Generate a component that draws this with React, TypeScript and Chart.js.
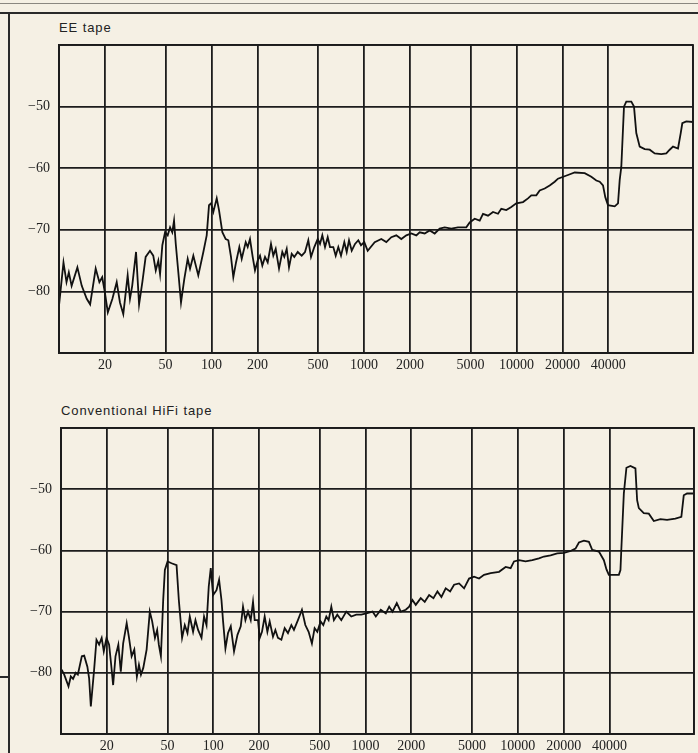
import React, { useEffect, useRef } from 'react';
import { Chart, registerables } from 'chart.js';

Chart.register(...registerables);

// Frequency axis (Hz, logarithmic) tick values and labels
const xTickValues = [10, 20, 50, 100, 200, 500, 1000, 2000, 5000, 10000, 20000, 40000, 143600];
const xTickLabels = ['', '20', '50', '100', '200', '500', '1000', '2000', '5000', '10000', '20000', '40000', ''];
const xMin = 10;
const xMax = 143600;

// Level axis (dB)
const yTickValues = [-90, -80, -70, -60, -50, -40];
const yTickLabels = ['', '\u221280', '\u221270', '\u221260', '\u221250', ''];
const yMin = -90;
const yMax = -40;

const titles = ['EE tape', 'Conventional HiFi tape'];

// EE tape
const eeFreq = [
  10, 10.7, 11.2, 11.6, 12.1, 13.2, 14.1, 15.2, 16.0, 17.4,
  18.4, 19.2, 20.0, 20.9, 22.4, 23.9, 25.1, 26.4, 28.2, 29.2,
  30.2, 32.0, 33.5, 35.2, 37.0, 39.5, 41.5, 43.1, 44.8, 46.0,
  47.6, 49.6, 51.6, 53.5, 55.3, 56.8, 58.3, 60.6, 63.1, 66.3,
  69.8, 72.3, 76.0, 81.9, 88.4, 93.0, 96.3, 99.2, 102.8, 108.2,
  112.0, 117.8, 123.9, 128.9, 134.2, 139.0, 144.8, 152.2, 157.8, 167.6,
  172.7, 178.8, 186.2, 192.8, 200.9, 208.0, 215.4, 224.3, 233.6, 245.5,
  254.2, 263.6, 277.1, 291.2, 300.1, 311.2, 322.2, 335.6, 349.0, 367.5,
  390.3, 410.3, 431.2, 449.2, 472.1, 497.0, 514.6, 532.8, 555.0, 578.1,
  598.4, 629.0, 652.3, 678.4, 706.6, 742.7, 770.0, 797.3, 830.5, 873.0,
  917.6, 955.7, 1004, 1057, 1175, 1298, 1400, 1510, 1628, 1756,
  1894, 2042, 2202, 2318, 2500, 2696, 2907, 3135, 3381, 3735,
  4132, 4684, 4932, 5318, 5735, 6029, 6502, 7012, 7561, 7947,
  8569, 9241, 9965, 11030, 11890, 12500, 13480, 14190, 15300, 16500,
  17800, 18700, 21750, 24070, 27990, 30930, 33360, 35120, 36900, 38200,
  39790, 44030, 46290, 47490, 48640, 50660, 52450, 56570, 58920, 61000,
  64220, 69260, 74690, 80540, 88970, 95960, 101000, 106200, 114500, 119300,
  122200, 129800, 143600,
];
const eeLevel = [
  -82.3, -75.3, -78.5, -76.9, -79.1, -76.1, -79.1, -81.2, -82.1, -76.3,
  -78.5, -77.7, -80.2, -83.4, -81.2, -78.5, -81.8, -83.7, -77.4, -81.2,
  -79.1, -73.6, -82.1, -78.5, -74.4, -73.4, -74.2, -76.6, -75.0, -77.2,
  -72.5, -70.4, -70.9, -69.6, -70.4, -68.5, -72.3, -76.9, -81.8, -78.0,
  -74.7, -76.3, -74.2, -77.4, -73.6, -70.9, -66.0, -65.7, -67.1, -64.9,
  -66.8, -70.4, -71.5, -71.7, -74.4, -77.7, -75.3, -72.8, -74.7, -72.0,
  -72.8, -71.5, -74.4, -76.6, -75.0, -74.2, -75.8, -74.4, -75.3, -72.3,
  -74.2, -73.1, -76.3, -73.6, -74.4, -73.1, -76.1, -73.9, -74.4, -73.6,
  -74.2, -73.6, -71.7, -74.4, -72.8, -71.5, -72.3, -70.9, -72.8, -71.2,
  -72.8, -72.8, -74.2, -72.8, -74.2, -72.0, -73.6, -71.7, -73.4, -72.3,
  -71.7, -72.5, -72.0, -73.4, -72.0, -71.5, -72.0, -71.2, -70.9, -71.5,
  -70.9, -70.6, -70.9, -70.4, -70.6, -70.1, -70.6, -69.8, -69.6, -69.8,
  -69.6, -69.6, -68.8, -68.2, -68.5, -67.4, -67.7, -67.1, -67.4, -66.6,
  -66.8, -66.3, -65.7, -65.5, -64.9, -64.4, -64.4, -63.6, -63.3, -62.8,
  -62.2, -61.7, -61.1, -60.7, -60.8, -61.4, -62.0, -62.2, -62.8, -64.7,
  -66.0, -66.2, -65.7, -61.9, -59.8, -50.0, -49.2, -49.2, -50.0, -54.3,
  -56.5, -56.9, -57.0, -57.6, -57.7, -57.6, -57.0, -56.5, -56.8, -54.3,
  -52.7, -52.4, -52.5,
];

// Conventional HiFi tape
const hifiFreq = [
  10.1, 10.5, 11.2, 11.6, 12.0, 12.5, 12.9, 13.7, 14.2, 14.9,
  15.3, 15.7, 16.5, 17.1, 17.8, 18.5, 19.1, 19.9, 20.7, 21.3,
  22.0, 22.8, 23.8, 24.7, 25.6, 27.0, 27.9, 29.1, 30.3, 31.5,
  32.5, 33.5, 34.7, 36.5, 38.3, 39.7, 41.4, 42.8, 43.9, 45.3,
  46.9, 48.1, 50.1, 53.2, 57.4, 59.4, 62.4, 65.0, 67.7, 70.1,
  73.7, 76.4, 79.5, 83.7, 87.0, 90.3, 93.4, 96.3, 99.7, 105.0,
  109.2, 113.2, 116.0, 120.2, 125.0, 130.3, 136.9, 144.2, 151.5, 156.8,
  162.6, 169.1, 176.2, 182.4, 187.1, 196.7, 201.8, 208.9, 217.6, 226.7,
  234.7, 246.7, 255.8, 266.0, 280.1, 294.4, 309.4, 325.7, 338.7, 359.8,
  382.2, 402.3, 422.9, 444.5, 463.0, 482.3, 507.0, 528.1, 552.6, 572.2,
  596.0, 619.8, 652.3, 693.0, 747.2, 805.9, 869.0, 937.1, 1011, 1112,
  1168, 1260, 1359, 1430, 1503, 1604, 1704, 1838, 1935, 2033,
  2137, 2305, 2448, 2617, 2792, 2966, 3150, 3362, 3593, 3815,
  4115, 4438, 4786, 5162, 5567, 6004, 6632, 7531, 8318, 8971,
  9444, 10180, 11250, 12450, 13770, 14850, 16410, 18160, 20090, 22200,
  23930, 25200, 27180, 29310, 30800, 34090, 36750, 38220, 39630, 46090,
  47220, 47720, 49700, 51690, 54930, 59220, 60760, 62350, 67220, 72500,
  78190, 86380, 95560, 108300, 118600, 123000, 129300, 143000,
];
const hifiLevel = [
  -79.5, -80.3, -82.2, -80.6, -81.0, -80.0, -80.3, -77.3, -77.2, -79.0,
  -80.9, -85.5, -79.5, -74.6, -75.4, -74.3, -76.5, -74.3, -75.4, -78.4,
  -82.0, -77.3, -75.4, -79.8, -75.2, -71.9, -74.1, -77.3, -76.2, -80.6,
  -78.7, -80.3, -79.2, -76.2, -70.0, -71.6, -74.3, -73.0, -75.4, -77.3,
  -68.1, -63.2, -61.8, -62.1, -62.4, -68.1, -74.3, -72.2, -73.5, -70.8,
  -73.3, -71.4, -73.0, -74.3, -70.8, -72.2, -65.9, -62.9, -67.3, -66.5,
  -64.8, -68.1, -71.6, -76.0, -73.5, -72.4, -76.5, -73.8, -72.4, -69.2,
  -71.4, -70.0, -71.4, -68.4, -71.4, -71.4, -74.3, -73.3, -70.8, -73.3,
  -71.6, -74.1, -73.0, -74.3, -74.6, -72.7, -73.5, -72.2, -73.0, -71.4,
  -69.7, -72.2, -73.3, -75.2, -72.7, -73.3, -71.6, -72.2, -70.8, -71.4,
  -69.2, -71.4, -70.5, -71.4, -70.0, -70.8, -70.5, -70.5, -70.3, -70.0,
  -70.8, -69.7, -70.3, -69.2, -70.0, -68.6, -70.0, -69.7, -69.2, -68.1,
  -68.9, -67.8, -68.4, -67.3, -67.8, -66.7, -67.6, -66.2, -66.7, -65.6,
  -65.4, -66.2, -64.6, -64.3, -64.6, -64.0, -63.7, -63.5, -62.7, -62.9,
  -61.8, -61.6, -61.8, -61.6, -61.3, -61.0, -60.8, -60.5, -60.4, -60.1,
  -59.7, -58.7, -58.4, -58.6, -59.9, -60.2, -61.6, -63.1, -64.0, -64.0,
  -63.2, -60.5, -50.7, -46.5, -46.2, -46.6, -51.8, -53.1, -53.9, -54.0,
  -55.2, -54.9, -55.0, -54.8, -54.5, -51.0, -50.7, -50.7,
];

const PAPER = '#f5f0e4';
const INK = '#1c1c1c';
const SERIF = "'Liberation Serif', 'DejaVu Serif', serif";
const SANS = "'Liberation Sans', Arial, sans-serif";

// Strokes the outline of the plotting area
const framePlugin = {
  id: 'plotFrame',
  afterDraw(chart: any) {
    const { ctx, chartArea } = chart;
    ctx.save();
    ctx.strokeStyle = INK;
    ctx.lineWidth = 1.8;
    ctx.strokeRect(chartArea.left, chartArea.top, chartArea.right - chartArea.left, chartArea.bottom - chartArea.top);
    ctx.restore();
  },
};

type Props = {
  freq: number[];
  level: number[];
  left: number;
  top: number;
  width: number;
  height: number;
  padRight: number;
  xAxisHeight: number;
  labelPad: number;
};

function ResponseChart({ freq, level, left, top, width, height, padRight, xAxisHeight, labelPad }: Props) {
  const ref = useRef<HTMLCanvasElement | null>(null);
  useEffect(() => {
    if (!ref.current) return;
    const points = freq.map((f, i) => ({ x: f, y: level[i] }));
    const chart = new Chart(ref.current, {
      type: 'line',
      data: {
        datasets: [
          {
            data: points,
            borderColor: '#111',
            borderWidth: 1.8,
            pointRadius: 0,
            tension: 0,
            fill: false,
          },
        ],
      },
      plugins: [framePlugin],
      options: {
        animation: false,
        responsive: false,
        devicePixelRatio: 1,
        parsing: false as any,
        layout: { padding: { top: 45, right: padRight, left: 0, bottom: 0 } },
        plugins: { legend: { display: false }, tooltip: { enabled: false }, title: { display: false } },
        scales: {
          x: {
            type: 'logarithmic',
            min: xMin,
            max: xMax,
            afterBuildTicks: (scale: any) => {
              scale.ticks = xTickValues.map((v) => ({ value: v }));
            },
            afterFit: (scale: any) => {
              scale.height = xAxisHeight;
            },
            ticks: {
              autoSkip: false,
              maxRotation: 0,
              minRotation: 0,
              padding: labelPad,
              color: '#222',
              font: { family: SERIF, size: 14 },
              callback: (value: any) => {
                const i = xTickValues.indexOf(Number(value));
                return i >= 0 ? xTickLabels[i] : '';
              },
            },
            grid: { color: INK, lineWidth: 1.8, drawTicks: false },
            border: { display: true, color: INK, width: 1.8 },
          },
          y: {
            type: 'linear',
            min: yMin,
            max: yMax,
            afterBuildTicks: (scale: any) => {
              scale.ticks = yTickValues.map((v) => ({ value: v }));
            },
            afterFit: (scale: any) => {
              scale.width = 59;
            },
            ticks: {
              padding: 9,
              color: '#222',
              font: { family: SERIF, size: 14 },
              callback: (value: any) => {
                const i = yTickValues.indexOf(Number(value));
                return i >= 0 ? yTickLabels[i] : '';
              },
            },
            grid: { color: INK, lineWidth: 1.8, drawTicks: false },
            border: { display: true, color: INK, width: 1.8 },
          },
        },
      },
    });
    return () => chart.destroy();
  }, [freq, level, padRight, xAxisHeight, labelPad]);
  return (
    <div style={{ position: 'absolute', left, top, width, height }}>
      <canvas ref={ref} width={width} height={height} style={{ width, height, display: 'block' }} />
    </div>
  );
}

export default function App() {
  const titleStyle: React.CSSProperties = {
    position: 'absolute',
    fontFamily: SANS,
    fontSize: 13,
    lineHeight: '13px',
    letterSpacing: '0.9px',
    color: '#222',
    whiteSpace: 'nowrap',
  };
  return (
    <div
      style={{
        position: 'fixed',
        left: 0,
        top: 0,
        width: 698,
        height: 753,
        background: PAPER,
        overflow: 'hidden',
      }}
    >
      {/* scan frame lines */}
      <div style={{ position: 'absolute', left: 0, top: 3, width: 698, height: 1, background: '#8a8780' }} />
      <div style={{ position: 'absolute', left: 0, top: 12, width: 698, height: 2, background: '#2a2a2a' }} />
      <div style={{ position: 'absolute', left: 8, top: 12, width: 2, height: 741, background: '#2a2a2a' }} />
      <div style={{ position: 'absolute', left: 0, top: 676, width: 9, height: 2, background: '#2a2a2a' }} />

      <div style={{ ...titleStyle, left: 59, top: 21 }}>{titles[0]}</div>
      <ResponseChart freq={eeFreq} level={eeLevel} left={0} top={0} width={698} height={380} padRight={5} xAxisHeight={27} labelPad={4} />

      <div style={{ ...titleStyle, left: 61, top: 404 }}>{titles[1]}</div>
      <ResponseChart freq={hifiFreq} level={hifiLevel} left={2} top={383} width={696} height={370} padRight={3} xAxisHeight={19} labelPad={4} />
    </div>
  );
}
